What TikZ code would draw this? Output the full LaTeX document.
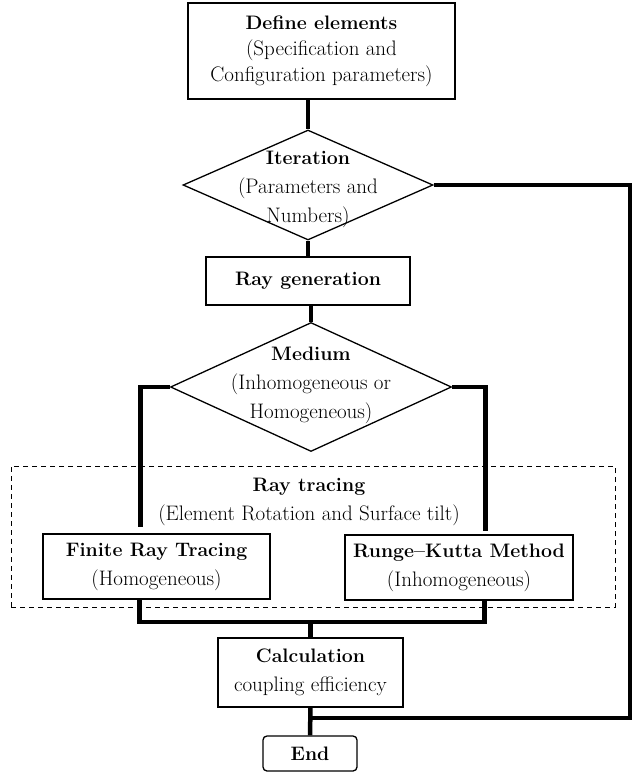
\documentclass[tikz,border=0pt]{standalone}
\usepackage{fontspec}
\usepackage{tikz}
\usetikzlibrary{shapes.geometric, positioning}

\newcommand{\ttl}[1]{{\fontsize{19.5}{29}\selectfont\bfseries #1}}

\begin{document}
\begin{tikzpicture} [x=1pt, y=-1pt,
		every node/.style={font=\fontsize{21}{29}\selectfont},
		box/.style={draw, line width=1.3pt, inner sep=0pt, align=center},
		dia/.style={draw, diamond, line width=1.3pt, inner sep=0pt},
		txt/.style={align=center},
		frame/.style={draw, line width=1pt, dash pattern=on 5pt off 4pt},
		link/.style={line width=4.5pt}]
		\useasboundingbox (0,0) rectangle (633,772);
		% boxes and decisions
		\node (def) [box, minimum width=267pt, minimum height=96pt] at (321.5,51)
			{\ttl{Define elements}\\[-3pt](Specification and\\[-3pt]Configuration parameters)};
		\node (iter) [dia, minimum width=250pt, minimum height=110pt] at (308,185) {};
		\node (itertxt) [txt] at (308,189) {\ttl{Iteration}\\(Parameters and\\Numbers)};
		\node (ray) [box, minimum width=204pt, minimum height=48pt] at (308,281) {\ttl{Ray generation}};
		\node (medium) [dia, minimum width=281pt, minimum height=129pt] at (311,387) {};
		\node (medtxt) [txt] at (311,385) {\ttl{Medium}\\(Inhomogeneous or\\Homogeneous)};
		\node (frame) [frame, minimum width=604pt, minimum height=141pt] at (313,536.5) {};
		\node (tracetxt) [txt] at (309,502) {\ttl{Ray tracing}\\(Element Rotation and Surface tilt)};
		\node (fin) [box, minimum width=227pt, minimum height=65pt] at (156.5,566.5)
			{\ttl{Finite Ray Tracing}\\(Homogeneous)};
		\node (run) [box, minimum width=228pt, minimum height=65pt] at (459,567.5)
			{\ttl{Runge--Kutta Method}\\(Inhomogeneous)};
		\node (calc) [box, minimum width=185pt, minimum height=69pt] at (310.5,672.5)
			{\ttl{Calculation}\\coupling efficiency};
		\node (end) [box, rounded corners=4pt, minimum width=94pt, minimum height=35pt] at (310,753.5) {\ttl{End}};
		\coordinate (join) at (310.5,622);
		\coordinate (back) at (630,718);
		% connectors
		\path [link]
		(iter.north |- def.south) edge (iter.north)
		(iter.south) edge (ray.north)
		(medium.north |- ray.south) edge (medium.north)
		(calc.south) edge (end.north)
		(join) edge (calc.north)
		;
		\draw [link, shorten >=6pt] (medium.west) -| ([xshift=98pt]fin.north west);
		\draw [link, shorten >=3pt] (medium.east) -| ([xshift=141pt]run.north west);
		\draw [link] ([xshift=97pt]fin.south west) |- (join) -| ([xshift=140pt]run.south west);
		\draw [link] (iter.east) -| (back) -- (back -| end.north);
	\end{tikzpicture}
\end{document}
